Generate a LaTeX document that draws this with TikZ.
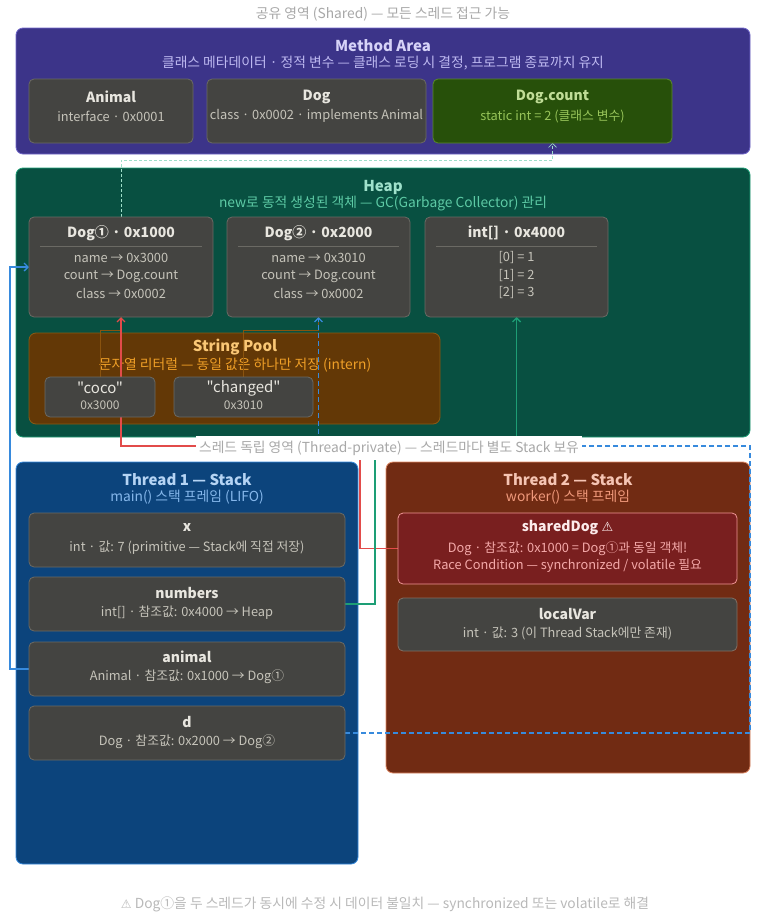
\documentclass[tikz,border=0pt]{standalone}
\usepackage{fontspec}
\setmainfont{Noto Sans CJK KR}
\newfontfamily\plainf{Noto Sans CJK KR}
\newfontfamily\symf{DejaVu Sans}
\usetikzlibrary{arrows.meta,calc}
\definecolor{maF}{HTML}{3C3489}\definecolor{maD}{HTML}{6F66C8}\definecolor{maT}{HTML}{D6D3F8}\definecolor{maS}{HTML}{BDB8F0}
\definecolor{gF}{HTML}{444441}\definecolor{gD}{HTML}{6B6A64}\definecolor{gT}{HTML}{E8E6DF}\definecolor{gS}{HTML}{C6C4BA}
\definecolor{dcF}{HTML}{27500A}\definecolor{dcD}{HTML}{5A8A2A}\definecolor{dcT}{HTML}{C0DD97}\definecolor{dcS}{HTML}{97C459}
\definecolor{hF}{HTML}{085041}\definecolor{hD}{HTML}{1D9E75}\definecolor{hT}{HTML}{9FE1CB}\definecolor{hS}{HTML}{5DCAA5}
\definecolor{spF}{HTML}{633806}\definecolor{spD}{HTML}{8A5A14}\definecolor{spT}{HTML}{FAC775}\definecolor{spS}{HTML}{EF9F27}
\definecolor{tiF}{HTML}{0C447C}\definecolor{tiD}{HTML}{378ADD}\definecolor{tiT}{HTML}{B5D4F4}\definecolor{tiS}{HTML}{85B7EB}
\definecolor{tjF}{HTML}{712B13}\definecolor{tjD}{HTML}{E08A66}\definecolor{tjT}{HTML}{F5C4B3}\definecolor{tjS}{HTML}{F0997B}
\definecolor{sdF}{HTML}{791F1F}\definecolor{sdD}{HTML}{F09595}\definecolor{sdT}{HTML}{FCEBEB}\definecolor{sdS}{HTML}{F4A9A9}
\definecolor{capG}{HTML}{A8A8A8}
\definecolor{cRed}{HTML}{E24B4A}\definecolor{cBlue}{HTML}{378ADD}\definecolor{cGreen}{HTML}{1D9E75}\definecolor{cTeal}{HTML}{5DCAA5}\definecolor{cOr}{HTML}{BA7517}
\pgfdeclarelayer{contlayer}\pgfdeclarelayer{connlayer}
\pgfsetlayers{contlayer,connlayer,main}
\tikzset{
  cont/.style={draw, line width=0.8pt, rounded corners=7pt, anchor=north west, inner sep=0pt, outer sep=0pt},
  item/.style={draw, line width=0.8pt, rounded corners=5pt, anchor=north west, inner sep=0pt, outer sep=0pt},
  gitem/.style={item, fill=gF, draw=gD},
  ttl/.style={font=\fontsize{14}{16}\selectfont\bfseries, inner sep=0pt},
  ctitle/.style={font=\fontsize{15}{17}\selectfont\bfseries, inner sep=0pt},
  sub/.style={font=\fontsize{12.8}{14}\selectfont, inner sep=0pt},
  csub/.style={font=\fontsize{13.8}{15}\selectfont, inner sep=0pt},
  captxt/.style={font=\fontsize{13.8}{15}\selectfont, inner sep=0pt},
  small/.style={font=\fontsize{12}{13}\selectfont, inner sep=0pt},
  arr/.style={-{Straight Barb[length=4pt,width=8pt]}},
  conn/.style={line width=1.4pt, arr},
}
\begin{document}
\begin{tikzpicture}[x=1pt,y=-1pt]
\useasboundingbox (0,0) rectangle (770,924);

\node[captxt, text=capG] (toplbl) at (383,14) {공유 영역 (Shared) — 모든 스레드 접근 가능};

% containers
\begin{pgfonlayer}{contlayer}
\fill[white] (0,0) rectangle (770,924);
\node[cont, fill=maF, draw=maD, minimum width=734, minimum height=126] (ma) at (16,28) {};
\node[ctitle, text=maT] (matitle) at (383,46) {Method Area};
\node[csub, text=maS] (masub) at (383,63) {클래스 메타데이터 · 정적 변수 — 클래스 로딩 시 결정, 프로그램 종료까지 유지};

\node[cont, fill=hF, draw=hD, minimum width=734, minimum height=269] (heap) at (16,168) {};
\node[ctitle, text=hT] (heaptitle) at (383,187) {Heap};
\node[csub, text=hS] (heapsub) at (383,204) {new로 동적 생성된 객체 — GC(Garbage Collector) 관리};

\node[item, fill=spF, draw=spD, rounded corners=7pt, minimum width=411, minimum height=91] (pool) at (29,333) {};
\node[ctitle, text=spT] (pooltitle) at (235,347) {String Pool};
\node[csub, text=spS] (poolsub) at (235,365) {문자열 리터럴 — 동일 값은 하나만 저장 (intern)};

\node[cont, fill=tiF, draw=tiD, minimum width=342, minimum height=402] (t1) at (16,462) {};
\node[ctitle, text=tiT] (t1title) at (187,480) {Thread 1 — Stack};
\node[csub, text=tiS] (t1sub) at (187,497) {main() 스택 프레임 (LIFO)};

\node[cont, fill=tjF, draw=tjD, minimum width=364, minimum height=311] (t2) at (386,462) {};
\node[ctitle, text=tjT] (t2title) at (568,480) {Thread 2 — Stack};
\node[csub, text=tjS] (t2sub) at (568,497) {worker() 스택 프레임};
\end{pgfonlayer}

% method area items
\node[gitem, minimum width=164, minimum height=64] (animalc) at (29,79) {};
\node[ttl, text=gT] at ($(animalc.north)+(0,18)$) {Animal};
\node[sub, text=gS] at ($(animalc.north)+(0,37)$) {interface · 0x0001};

\node[gitem, minimum width=219, minimum height=64] (dogc) at (207,79) {};
\node[ttl, text=gT] at ($(dogc.north)+(0,18)$) {Dog};
\node[sub, text=gS] at ($(dogc.north)+(0,37)$) {class · 0x0002 · implements Animal};

\node[item, fill=dcF, draw=dcD, minimum width=239, minimum height=64] (dcount) at (433,79) {};
\node[ttl, text=dcT] at ($(dcount.north)+(0,18)$) {Dog.count};
\node[sub, text=dcS] at ($(dcount.north)+(0,37)$) {static int = 2 (클래스 변수)};

% heap items
\node[gitem, minimum width=184, minimum height=100] (dog1) at (29,217) {};
\node[ttl, text=gT] at ($(dog1.north)+(0,16)$) {Dog① · 0x1000};
\draw[gD, line width=0.8pt] ($(dog1.north west)+(11,29)$) -- ($(dog1.north east)+(-11,29)$);
\node[sub, text=gS] at ($(dog1.north)+(0,41)$) {name → 0x3000};
\node[sub, text=gS] at ($(dog1.north)+(0,59)$) {count → Dog.count};
\node[sub, text=gS] at ($(dog1.north)+(0,76)$) {class → 0x0002};

\node[gitem, minimum width=183, minimum height=100] (dog2) at (227,217) {};
\node[ttl, text=gT] at ($(dog2.north)+(0,16)$) {Dog② · 0x2000};
\draw[gD, line width=0.8pt] ($(dog2.north west)+(11,29)$) -- ($(dog2.north east)+(-11,29)$);
\node[sub, text=gS] at ($(dog2.north)+(0,41)$) {name → 0x3010};
\node[sub, text=gS] at ($(dog2.north)+(0,59)$) {count → Dog.count};
\node[sub, text=gS] at ($(dog2.north)+(0,76)$) {class → 0x0002};

\node[gitem, minimum width=183, minimum height=100] (intarr) at (425,217) {};
\node[ttl, text=gT] at ($(intarr.north)+(0,16)$) {int[] · 0x4000};
\draw[gD, line width=0.8pt] ($(intarr.north west)+(11,29)$) -- ($(intarr.north east)+(-11,29)$);
\node[sub, text=gS] at ($(intarr.north)+(0,41)$) {[0] = 1};
\node[sub, text=gS] at ($(intarr.north)+(0,59)$) {[1] = 2};
\node[sub, text=gS] at ($(intarr.north)+(0,76)$) {[2] = 3};

% string pool items
\node[gitem, minimum width=110, minimum height=40] (coco) at (45,377) {};
\node[inner sep=0pt, text=gT, font=\plainf\fontsize{15}{16}\selectfont] at ($(coco.north)+(0,11)$) {"coco"};
\node[small, text=gS] at ($(coco.north)+(0,28)$) {0x3000};

\node[gitem, minimum width=139, minimum height=40] (changed) at (174,377) {};
\node[inner sep=0pt, text=gT, font=\plainf\fontsize{15}{16}\selectfont] at ($(changed.north)+(0,11)$) {"changed"};
\node[small, text=gS] at ($(changed.north)+(0,28)$) {0x3010};

% thread 1 items
\node[gitem, minimum width=316, minimum height=54] (xv) at (29,513) {};
\node[ttl, text=gT] at ($(xv.north)+(0,15)$) {x};
\node[sub, text=gS] at ($(xv.north)+(0,35)$) {int · 값: 7 (primitive — Stack에 직접 저장)};

\node[gitem, minimum width=316, minimum height=54] (numbers) at (29,577) {};
\node[ttl, text=gT] at ($(numbers.north)+(0,16)$) {numbers};
\node[sub, text=gS] at ($(numbers.north)+(0,36)$) {int[] · 참조값: 0x4000 → Heap};

\node[gitem, minimum width=316, minimum height=54] (animal) at (29,642) {};
\node[ttl, text=gT] at ($(animal.north)+(0,15)$) {animal};
\node[sub, text=gS] at ($(animal.north)+(0,35)$) {Animal · 참조값: 0x1000 → Dog①};

\node[gitem, minimum width=316, minimum height=54] (dvar) at (29,706) {};
\node[ttl, text=gT] at ($(dvar.north)+(0,16)$) {d};
\node[sub, text=gS] at ($(dvar.north)+(0,36)$) {Dog · 참조값: 0x2000 → Dog②};

% thread 2 items
\node[item, fill=sdF, draw=sdD, minimum width=339, minimum height=71] (shared) at (398,513) {};
\node[ttl, text=sdT] at ($(shared.north)+(0,15)$) {sharedDog {\symf\fontsize{13}{15}\selectfont ⚠}};
\node[sub, text=sdS] at ($(shared.north)+(0,36)$) {Dog · 참조값: 0x1000 = Dog①과 동일 객체!};
\node[sub, text=sdS] at ($(shared.north)+(0,53)$) {Race Condition — synchronized / volatile 필요};

\node[item, fill=gF, draw=gD!80!tjD, minimum width=339, minimum height=53] (localv) at (398,598) {};
\node[ttl, text=gT] at ($(localv.north)+(0,16)$) {localVar};
\node[sub, text=gS] at ($(localv.north)+(0,35)$) {int · 값: 3 (이 Thread Stack에만 존재)};

% connectors
\begin{pgfonlayer}{connlayer}
\coordinate (tc) at (0,160);
\coordinate (fl) at (0,330);
\draw[cTeal!60!white, line width=0.6pt, dash pattern=on 3pt off 2pt, arr] (dog1.north) -- (dog1.north |- tc) -- (dcount.south |- tc) -- (dcount.south);
\draw[cOr!45!spF, line width=0.8pt] (coco.north) |- (dog1.south |- fl) -- (dog1.south);
\draw[cOr!45!spF, line width=0.8pt] (changed.north) |- (dog2.south |- fl) -- (dog2.south);
\coordinate (r1) at (360,446);
\draw[conn, cRed] (shared.west) -| (r1) -| (dog1.south);
\coordinate (g1) at (375,446);
\draw[conn, cGreen] (numbers.east) -| (g1) -| (intarr.south);
\draw[conn, cBlue] (animal.west) -| ($(dog1.west)+(-19,0)$) -- (dog1.west);
\coordinate (d1) at (750,446);
\draw[conn, cBlue, dashed, dash pattern=on 5pt off 3pt] (dvar.east) -| (d1) -| (dog2.south);
\end{pgfonlayer}

\node[captxt, text=capG, fill=white, inner xsep=3pt, inner ysep=5pt] (midlbl) at (389,448) {스레드 독립 영역 (Thread-private) — 스레드마다 별도 Stack 보유};

\node[captxt, text=capG!80!white] (botlbl) at (385,904) {{\symf\fontsize{12}{13}\selectfont ⚠} Dog①을 두 스레드가 동시에 수정 시 데이터 불일치 — synchronized 또는 volatile로 해결};
\end{tikzpicture}
\end{document}
